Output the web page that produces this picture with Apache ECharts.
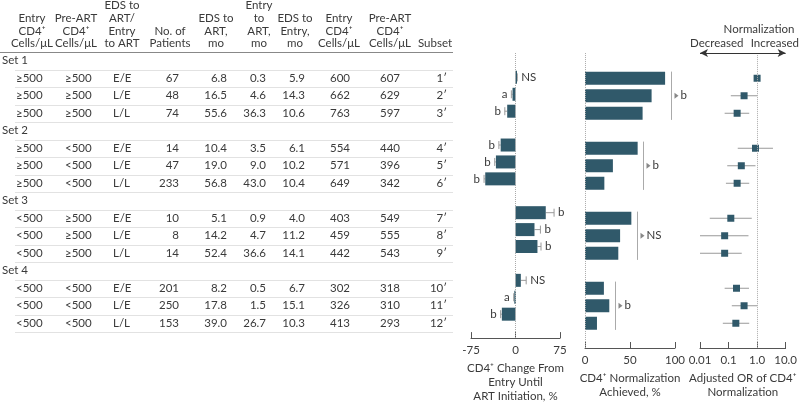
<!DOCTYPE html>
<html><head><meta charset="utf-8">
<script src="https://cdn.jsdelivr.net/npm/echarts@6/dist/echarts.min.js"></script>
<style>html,body{margin:0;padding:0;background:#fff}#c{width:800px;height:408px}</style>
</head><body><div id="c"></div>
<script>
// ---------- data ----------
const setLabels = ['Set 1', 'Set 2', 'Set 3', 'Set 4'];
const entryCD4Cat = ['≥500','≥500','≥500','≥500','≥500','≥500','<500','<500','<500','<500','<500','<500'];
const preArtCat   = ['≥500','≥500','≥500','<500','<500','<500','≥500','≥500','≥500','<500','<500','<500'];
const timing      = ['E/E','L/E','L/L','E/E','L/E','L/L','E/E','L/E','L/L','E/E','L/E','L/L'];
const nPatients   = ['67','48','74','14','47','233','10','8','14','201','250','153'];
const edsToArt    = ['6.8','16.5','55.6','10.4','19.0','56.8','5.1','14.2','52.4','8.2','17.8','39.0'];
const entryToArt  = ['0.3','4.6','36.3','3.5','9.0','43.0','0.9','4.7','36.6','0.5','1.5','26.7'];
const edsToEntry  = ['5.9','14.3','10.6','6.1','10.2','10.4','4.0','11.2','14.1','6.7','15.1','10.3'];
const entryCells  = ['600','662','763','554','571','649','403','459','442','302','326','413'];
const preArtCells = ['607','629','597','440','396','342','549','555','543','318','310','293'];
const subsets     = ['1′','2′','3′','4′','5′','6′','7′','8′','9′','10′','11′','12′'];

const cd4Change    = [1, -5, -14, -25, -33, -51, 51, 32, 37, 9, -2, -23];
const cd4ChangeErr = [2, 2, 4, 3, 2, 2, 14, 10, 6, 9, 1, 2];
const cd4ChangeSig = ['NS','a','b','b','b','b','b','b','b','NS','a','b'];

const normPct = [89, 74, 64, 58.5, 31, 21.5, 51.5, 39, 37, 21, 27, 13.3];
const normSetSig = ['b', 'b', 'NS', 'b'];

const orEst  = [1.0, 0.35, 0.20, 0.88, 0.28, 0.20, 0.12, 0.073, 0.073, 0.19, 0.35, 0.18];
const orLow  = [1.0, 0.12, 0.073, 0.21, 0.09, 0.081, 0.022, 0.01, 0.01, 0.073, 0.13, 0.063];
const orHigh = [1.0, 1.0, 0.53, 3.6, 0.88, 0.53, 0.65, 0.5, 0.29, 0.52, 1.0, 0.53];

const headerTexts = [
  'Entry\nCD4⁺\nCells/μL', 'Pre-ART\nCD4⁺\nCells/μL', 'EDS to\nART/\nEntry\nto ART', 'No. of\nPatients',
  'EDS to\nART,\nmo', 'Entry\nto\nART,\nmo', 'EDS to\nEntry,\nmo', 'Entry\nCD4⁺\nCells/μL', 'Pre-ART\nCD4⁺\nCells/μL', 'Subset'
];

// ---------- layout / style ----------
const FONT = 'Lato, "Liberation Sans", sans-serif';
const FS = 11.5;
const TXT = '#3a3a3a';
const BAR = '#30596a';
const GRAY = '#999';
const TOP = 52, BOTTOM_Y = 348, SLOT = 17.5;
const YMAX = -0.5 + (BOTTOM_Y - TOP) / SLOT;
const headerX = [32, 76, 122, 170, 216, 259, 295, 339, 390, 435];
const colDefs = [
  {x: 16, align: 'left', arr: entryCD4Cat},
  {x: 65, align: 'left', arr: preArtCat},
  {x: 113, align: 'left', arr: timing},
  {x: 179, align: 'right', arr: nPatients},
  {x: 227, align: 'right', arr: edsToArt},
  {x: 266, align: 'right', arr: entryToArt},
  {x: 305, align: 'right', arr: edsToEntry},
  {x: 340, align: 'center', arr: entryCells},
  {x: 390, align: 'center', arr: preArtCells},
  {x: 447, align: 'right', arr: subsets}
];

function rowSlot(i) { return Math.floor(i / 3) * 4 + (i % 3) + 1; }
function setSlot(j) { return j * 4; }

const cells = [];
setLabels.forEach((t, j) => cells.push({value: [2, setSlot(j)], text: t, align: 'left'}));
colDefs.forEach(c => c.arr.forEach((t, i) => cells.push({value: [c.x, rowSlot(i)], text: t, align: c.align})));

const sepSlots = [];
for (let s = -0.5; s <= 15.5; s += 1) sepSlots.push([0, s]);

const chart = echarts.init(document.getElementById('c'), null, {renderer: 'canvas'});

function yAx(g) { return {gridIndex: g, type: 'value', min: -0.5, max: YMAX, inverse: true, show: false}; }
const axisCommon = {
  position: 'bottom',
  axisLine: {show: true, onZero: false, lineStyle: {color: '#555', width: 1}},
  axisTick: {show: true, inside: true, length: 6, lineStyle: {color: '#555'}},
  axisLabel: {color: TXT, fontSize: 11.5, fontFamily: FONT, margin: 6},
  splitLine: {show: false},
  nameLocation: 'middle', nameGap: 21,
  nameTextStyle: {color: TXT, fontSize: 11.5, fontFamily: FONT, lineHeight: 14, verticalAlign: 'top'}
};

function txt(x, y, text, align, extra) {
  return Object.assign({type: 'text', x: x, y: y, silent: true,
    style: {text: text, fill: TXT, fontSize: FS, fontFamily: FONT, align: align || 'left', verticalAlign: 'middle'}}, extra || {});
}

const zeroLineStyle = {color: '#aaa', type: 'dotted', width: 1};

const option = {
  animation: false,
  backgroundColor: '#fff',
  grid: [
    {left: 0, top: TOP, width: 460, height: BOTTOM_Y - TOP},
    {left: 471, top: TOP, width: 89, height: BOTTOM_Y - TOP},
    {left: 585, top: TOP, width: 90, height: BOTTOM_Y - TOP},
    {left: 700, top: TOP, width: 90, height: BOTTOM_Y - TOP}
  ],
  xAxis: [
    {gridIndex: 0, type: 'value', min: 0, max: 460, show: false},
    Object.assign({gridIndex: 1, type: 'value', min: -75, max: 75, interval: 75,
      name: 'CD4⁺ Change From\nEntry Until\nART Initiation, %'}, axisCommon),
    Object.assign({gridIndex: 2, type: 'value', min: 0, max: 100, interval: 50,
      name: 'CD4⁺ Normalization\nAchieved, %'}, axisCommon),
    Object.assign({gridIndex: 3, type: 'log', logBase: 10, min: 0.01, max: 10,
      name: 'Adjusted OR of CD4⁺\nNormalization'}, axisCommon,
      {axisLabel: Object.assign({}, axisCommon.axisLabel, {formatter: v => v >= 1 ? Number(v).toFixed(1) : String(Number(Number(v).toPrecision(2)))})},
      {minorTick: {show: false}})
  ],
  yAxis: [yAx(0), yAx(1), yAx(2), yAx(3)],
  graphic: headerTexts.map((t, k) => ({
    type: 'text', x: headerX[k], y: 50, silent: true,
    style: {text: t, fill: TXT, fontSize: FS, fontFamily: FONT, align: 'center', verticalAlign: 'bottom', lineHeight: 12.8}
  })).concat([
    txt(759, 29, 'Normalization', 'center'),
    txt(690, 43, 'Decreased', 'left'),
    txt(799, 43, 'Increased', 'right')
  ]),
  series: [
    {type: 'custom', xAxisIndex: 0, yAxisIndex: 0, silent: true, data: sepSlots,
      renderItem: (params, api) => {
        const s = api.value(1);
        const first = s < 0;
        const a = api.coord([first ? 0 : 15, s]), b = api.coord([453, s]);
        const y = Math.round(a[1]) + 0.5;
        return {type: 'line', shape: {x1: a[0], y1: y, x2: b[0], y2: y},
          style: {stroke: first ? '#888' : '#e2e2e2', lineWidth: 1}};
      }},
    {type: 'custom', xAxisIndex: 0, yAxisIndex: 0, silent: true, data: cells.map(c => c.value),
      renderItem: (params, api) => {
        const c = cells[params.dataIndex];
        const p = api.coord([api.value(0), api.value(1)]);
        return txt(p[0], p[1], c.text, c.align);
      }},
    {type: 'custom', xAxisIndex: 1, yAxisIndex: 1, silent: true,
      data: cd4Change.map((v, i) => [v, rowSlot(i)]),
      markLine: {silent: true, symbol: 'none', label: {show: false}, lineStyle: zeroLineStyle,
        data: [[{coord: [0, -0.44]}, {coord: [0, YMAX]}]]},
      renderItem: (params, api) => {
        const i = params.dataIndex;
        const v = api.value(0), s = api.value(1);
        const dir = v >= 0 ? 1 : -1;
        const p0 = api.coord([0, s]), p1 = api.coord([v, s]);
        const pe = api.coord([v + dir * cd4ChangeErr[i], s]);
        const h = 13;
        return {type: 'group', children: [
          {type: 'line', shape: {x1: p1[0], y1: p1[1], x2: pe[0], y2: pe[1]}, style: {stroke: GRAY, lineWidth: 1}},
          {type: 'line', shape: {x1: pe[0], y1: pe[1] - 4, x2: pe[0], y2: pe[1] + 4}, style: {stroke: GRAY, lineWidth: 1}},
          {type: 'rect', shape: {x: Math.min(p0[0], p1[0]), y: p0[1] - h / 2, width: Math.max(1.5, Math.abs(p1[0] - p0[0])), height: h},
            style: {fill: BAR}},
          txt(pe[0] + dir * 4, pe[1], cd4ChangeSig[i], dir > 0 ? 'left' : 'right')
        ]};
      }},
    {type: 'custom', xAxisIndex: 2, yAxisIndex: 2, silent: true,
      data: normPct.map((v, i) => [v, rowSlot(i)]),
      markLine: {silent: true, symbol: 'none', label: {show: false}, lineStyle: zeroLineStyle,
        data: [[{coord: [0, -0.44]}, {coord: [0, YMAX]}]]},
      renderItem: (params, api) => {
        const v = api.value(0), s = api.value(1);
        const p0 = api.coord([0, s]), p1 = api.coord([v, s]);
        const h = 13;
        return {type: 'rect', shape: {x: p0[0], y: p0[1] - h / 2, width: p1[0] - p0[0], height: h}, style: {fill: BAR}};
      }},
    {type: 'custom', xAxisIndex: 2, yAxisIndex: 2, silent: true,
      data: normSetSig.map((t, j) => [Math.max(normPct[3 * j], normPct[3 * j + 1], normPct[3 * j + 2]) + 6, setSlot(j) + 2]),
      renderItem: (params, api) => {
        const j = params.dataIndex;
        const x = api.value(0), s = api.value(1);
        const a = api.coord([x, s - 1.38]), b = api.coord([x, s + 1.38]);
        const m = api.coord([x, s]);
        const lx = Math.round(a[0]) + 0.5;
        return {type: 'group', children: [
          {type: 'line', shape: {x1: lx, y1: a[1], x2: lx, y2: b[1]}, style: {stroke: '#aaa', lineWidth: 1}},
          {type: 'polygon', shape: {points: [[lx + 3, m[1] - 3], [lx + 3, m[1] + 3], [lx + 7, m[1]]]}, style: {fill: '#888'}},
          txt(lx + 9, m[1], normSetSig[j], 'left')
        ]};
      }},
    {type: 'custom', xAxisIndex: 3, yAxisIndex: 3, silent: true,
      data: orEst.map((v, i) => [v, rowSlot(i), orLow[i], orHigh[i]]),
      markLine: {silent: true, label: {show: false},
        data: [
          [{coord: [1, -0.32], symbol: 'none', lineStyle: zeroLineStyle}, {coord: [1, YMAX], symbol: 'none'}],
          [{coord: [0.01, -0.45], symbol: 'arrow', symbolSize: [6, 8], lineStyle: {color: '#333', width: 1, type: 'solid'}},
           {coord: [10, -0.45], symbol: 'arrow', symbolSize: [6, 8]}]
        ]},
      renderItem: (params, api) => {
        const s = api.value(1);
        const p = api.coord([api.value(0), s]);
        const lo = api.coord([api.value(2), s]), hi = api.coord([api.value(3), s]);
        const sz = 7;
        return {type: 'group', children: [
          {type: 'line', shape: {x1: lo[0], y1: p[1], x2: hi[0], y2: p[1]}, style: {stroke: GRAY, lineWidth: 1}},
          {type: 'rect', shape: {x: p[0] - sz / 2, y: p[1] - sz / 2, width: sz, height: sz}, style: {fill: BAR}}
        ]};
      }}
  ]
};
chart.setOption(option);
</script></body></html>
